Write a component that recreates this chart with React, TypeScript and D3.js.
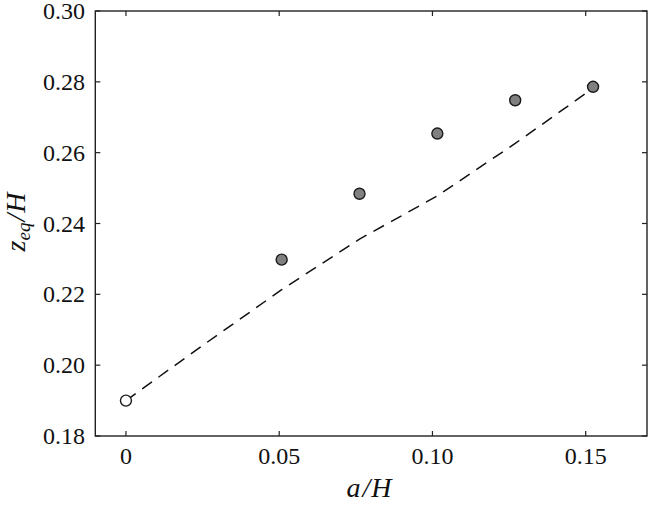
import React from "react";
import * as d3 from "d3";

const xTicks = [0, 0.05, 0.1, 0.15];
const xTickLabels = ["0", "0.05", "0.10", "0.15"];
const yTicks = [0.18, 0.2, 0.22, 0.24, 0.26, 0.28, 0.3];
const yTickLabels = ["0.18", "0.20", "0.22", "0.24", "0.26", "0.28", "0.30"];

const pointX = [0.0508, 0.0762, 0.1016, 0.127, 0.1524];
const pointY = [0.2298, 0.2484, 0.2654, 0.2748, 0.2786];

const openX = [0];
const openY = [0.19];

const lineX = [0, 0.0254, 0.0508, 0.0762, 0.1016, 0.127, 0.1524];
const lineY = [0.19, 0.2058, 0.2213, 0.2356, 0.2478, 0.2626, 0.2782];

const W = 648;
const H = 507;
const left = 95.3;
const right = 647;
const top = 11;
const bottom = 436;

export default function App() {
  const x = d3.scaleLinear().domain([-0.01, 0.17]).range([left, right]);
  const y = d3.scaleLinear().domain([0.18, 0.3]).range([bottom, top]);
  const line = d3
    .line<number>()
    .x((_, i) => x(lineX[i]))
    .y((d) => y(d));
  const font = "Liberation Serif";
  const axisColor = "#222";
  const tickLen = 5;
  return (
    <svg
      width={W}
      height={H}
      style={{ position: "absolute", left: 0, top: 0, background: "#fff" }}
    >
      <path
        d={line(lineY) || ""}
        fill="none"
        stroke="#111"
        strokeWidth={1.5}
        strokeDasharray="12,8"
      />
      {pointX.map((px, i) => (
        <circle
          key={i}
          cx={x(px)}
          cy={y(pointY[i])}
          r={5.5}
          fill="#808080"
          stroke="#1a1a1a"
          strokeWidth={1.4}
        />
      ))}
      {openX.map((px, i) => (
        <circle
          key={"o" + i}
          cx={x(px)}
          cy={y(openY[i])}
          r={5.5}
          fill="#fff"
          stroke="#1a1a1a"
          strokeWidth={1.4}
        />
      ))}
      <rect
        x={left}
        y={top}
        width={right - left}
        height={bottom - top}
        fill="none"
        stroke={axisColor}
        strokeWidth={1.4}
      />
      {xTicks.map((t, i) => (
        <g key={"x" + i}>
          <line x1={x(t)} x2={x(t)} y1={bottom} y2={bottom - tickLen} stroke={axisColor} strokeWidth={1.2} />
          <line x1={x(t)} x2={x(t)} y1={top} y2={top + tickLen} stroke={axisColor} strokeWidth={1.2} />
          <text
            x={x(t)}
            y={463.5}
            textAnchor="middle"
            fontFamily={font}
            fontSize={24}
            fill="#111"
          >
            {xTickLabels[i]}
          </text>
        </g>
      ))}
      {yTicks.map((t, i) => (
        <g key={"y" + i}>
          <line x1={left} x2={left + tickLen} y1={y(t)} y2={y(t)} stroke={axisColor} strokeWidth={1.2} />
          <line x1={right} x2={right - tickLen} y1={y(t)} y2={y(t)} stroke={axisColor} strokeWidth={1.2} />
          <text
            x={85}
            y={y(t)}
            dy="0.34em"
            textAnchor="end"
            fontFamily={font}
            fontSize={24}
            fill="#111"
          >
            {yTickLabels[i]}
          </text>
        </g>
      ))}
      <text
        x={369}
        y={497}
        textAnchor="middle"
        fontFamily={font}
        fontSize={28}
        fontStyle="italic"
        fill="#111"
      >
        <tspan>a</tspan>
        <tspan dx={2}>/</tspan>
        <tspan dx={1}>H</tspan>
      </text>
      <text
        transform={`translate(25,222) rotate(-90)`}
        textAnchor="middle"
        fontFamily={font}
        fontSize={28}
        fontStyle="italic"
        fill="#111"
      >
        <tspan>z</tspan>
        <tspan fontSize={19} dy={5}>eq</tspan>
        <tspan dy={-5} dx={1}>/</tspan>
        <tspan dx={1}>H</tspan>
      </text>
    </svg>
  );
}
